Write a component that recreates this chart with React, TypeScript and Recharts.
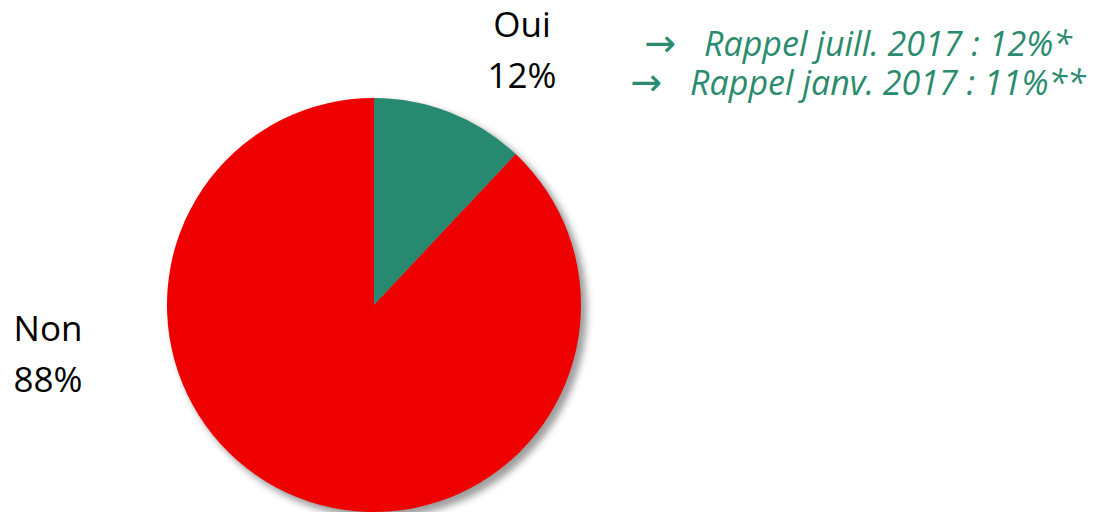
import React from 'react';
import { PieChart, Pie, Cell } from 'recharts';

const categories = ['Oui', 'Non'];
const values = [12, 88];
const sliceColors = ['#278A70', '#EE0000'];
const notes = ['Rappel juill. 2017 : 12%*', 'Rappel janv. 2017 : 11%**'];

const data = categories.map((name, i) => ({ name, value: values[i] }));
const shadowData = [{ name: 'all', value: values.reduce((a, b) => a + b, 0) }];

const labelPos: Record<string, { x: number; y: number }> = {
  Oui: { x: 522, y: 37 },
  Non: { x: 48, y: 341 },
};

const renderLabel = (props: any) => {
  const { name, percent } = props;
  const p = labelPos[name];
  if (!p) return null;
  return (
    <text
      x={p.x}
      y={p.y}
      textAnchor="middle"
      fill="#000"
      style={{ fontFamily: '"Open Sans", sans-serif', fontSize: 35 }}
    >
      <tspan x={p.x} y={p.y}>{name}</tspan>
      <tspan x={p.x} y={p.y + 51}>{`${Math.round(percent * 100)}%`}</tspan>
    </text>
  );
};

const Note = ({ y, label }: { y: number; label: string }) => (
  <text
    x={858}
    y={y}
    textAnchor="middle"
    fill="#2A8B6E"
    style={{ fontFamily: '"Open Sans", sans-serif', fontSize: 34, fontStyle: 'italic' }}
  >
    <tspan style={{ fontFamily: '"Noto Sans", "DejaVu Sans", sans-serif', fontStyle: 'normal', fontSize: 38 }}>→</tspan>
    <tspan dx={28}>{label}</tspan>
  </text>
);

export default function App() {
  return (
    <div style={{ position: 'absolute', left: 0, top: 0, width: 1097, height: 512, background: '#fff' }}>
      <PieChart width={1097} height={512} margin={{ top: 0, right: 0, bottom: 0, left: 0 }}>
        <defs>
          <filter id="pieShadow" x="-20%" y="-20%" width="140%" height="140%">
            <feGaussianBlur stdDeviation="3.5" />
          </filter>
        </defs>
        <Pie
          data={shadowData}
          dataKey="value"
          cx={379}
          cy={310}
          outerRadius={208}
          startAngle={90}
          endAngle={-270}
          stroke="none"
          fill="#000"
          isAnimationActive={false}
          label={false}
          labelLine={false}
        >
          <Cell fill="#000" fillOpacity={0.38} style={{ filter: 'url(#pieShadow)' }} />
        </Pie>
        <Pie
          data={data}
          dataKey="value"
          nameKey="name"
          cx={374}
          cy={305}
          outerRadius={207}
          startAngle={90}
          endAngle={-270}
          stroke="none"
          isAnimationActive={false}
          label={renderLabel}
          labelLine={false}
        >
          {data.map((d, i) => (
            <Cell key={d.name} fill={sliceColors[i]} />
          ))}
        </Pie>
        <Note y={56} label={notes[0]} />
        <Note y={95} label={notes[1]} />
      </PieChart>
    </div>
  );
}
